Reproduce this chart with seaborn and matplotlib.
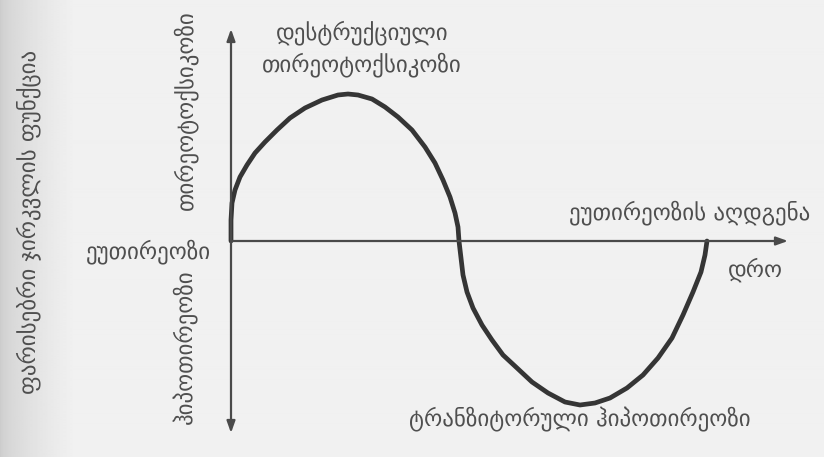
import numpy as np
import matplotlib
matplotlib.use("Agg")
import matplotlib.pyplot as plt
import seaborn as sns

sns.set_style("white")
plt.rcParams["font.family"] = ["DejaVu Sans"]

# Thyroid function over time (arbitrary units): thyrotoxic phase, transient
# hypothyroid phase, then return to euthyroid state.
time = [0.0, 0.0, 0.1, 0.4, 0.9, 1.6, 2.4, 3.4, 4.6, 5.9, 7.4, 9.1, 10.7,
        11.7, 12.7, 14.1, 15.4, 16.7, 18.1, 19.4, 20.4, 21.2, 21.9, 22.4,
        22.7, 22.8,
        23.0, 23.2, 23.6, 24.2, 25.1, 26.1, 27.2, 28.6, 30.1, 31.7, 33.4,
        34.9, 36.4, 37.9, 39.6, 41.2, 42.7, 44.1, 45.2, 46.2, 47.0, 47.4,
        47.6]
function = [0.0, 2.1, 3.8, 5.1, 6.4, 7.6, 8.8, 9.9, 11.1, 12.3, 13.3, 14.1,
            14.6, 14.7, 14.6, 14.2, 13.4, 12.4, 11.1, 9.4, 7.8, 6.1, 4.4, 2.8,
            1.4, 0.0,
            -1.7, -3.4, -5.1, -6.7, -8.4, -9.9, -11.4, -12.7, -14.1, -15.2,
            -16.1, -16.4, -16.2, -15.7, -14.7, -13.4, -11.7, -9.7, -7.4, -5.1,
            -3.1, -1.4, 0.0]

y_title = "ფარისებრი ჯირკვლის ფუნქცია"
x_title = "დრო"
zero_label = "ეუთირეოზი"
upper_label = "თირეოტოქსიკოზი"
lower_label = "ჰიპოთირეოზი"
peak_lines = ["დესტრუქციული", "თირეოტოქსიკოზი"]
trough_label = "ტრანზიტორული ჰიპოთირეოზი"
end_label = "ეუთირეოზის აღდგენა"

fig = plt.figure(figsize=(8.24, 4.57), dpi=100)
fig.patch.set_facecolor("#f0f0ed")

# paper shading toward the left margin
bg = fig.add_axes([0, 0, 1, 1])
bg.set_axis_off()
grad = np.linspace(0, 1, 824)
shade = 0.80 + 0.143 * np.clip(grad / 0.09, 0, 1) ** 0.6
shade = np.tile(shade, (10, 1))
bg.imshow(shade, cmap="gray", vmin=0, vmax=1, aspect="auto",
          extent=[0, 1, 0, 1])

ax = fig.add_axes([0, 0, 1, 1])
ax.set_facecolor("none")
ax.set_xlim(-23.1, 59.3)
ax.set_ylim(-21.6, 24.1)
ax.set_axis_off()

axis_color = "#4a4a4a"
text_color = "#4f4f4f"

# coordinate axes with arrowheads
ax.annotate("", xy=(0, 21.2), xytext=(0, -19.2),
            arrowprops=dict(arrowstyle="<|-|>,head_length=0.7,head_width=0.25",
                            color=axis_color, lw=1.6, shrinkA=0, shrinkB=0))
ax.annotate("", xy=(55.7, 0), xytext=(0, 0),
            arrowprops=dict(arrowstyle="-|>,head_length=0.7,head_width=0.25",
                            color=axis_color, lw=1.6, shrinkA=0, shrinkB=0))

sns.lineplot(x=time, y=function, sort=False, estimator=None, ax=ax,
             color="#353535", linewidth=3.4,
             solid_joinstyle="round", solid_capstyle="round")

fs = 16.5
kw = dict(ha="center", va="center", fontsize=fs, color=text_color)
ax.text(13.1, 20.8, peak_lines[0], **kw)
ax.text(13.1, 17.6, peak_lines[1], **kw)
ax.text(45.9, 2.8, end_label, **kw)
ax.text(52.4, -2.9, x_title, **kw)
ax.text(34.9, -17.9, trough_label, **kw)
ax.text(-8.3, -1.1, zero_label, **kw)
ax.text(-4.6, 13.1, upper_label, rotation=90, **kw)
ax.text(-4.6, -10.6, lower_label, rotation=90, **kw)
ax.text(-20.2, 1.9, y_title, rotation=90, **kw)

fig.savefig("out.png", dpi=100, facecolor=fig.get_facecolor())
